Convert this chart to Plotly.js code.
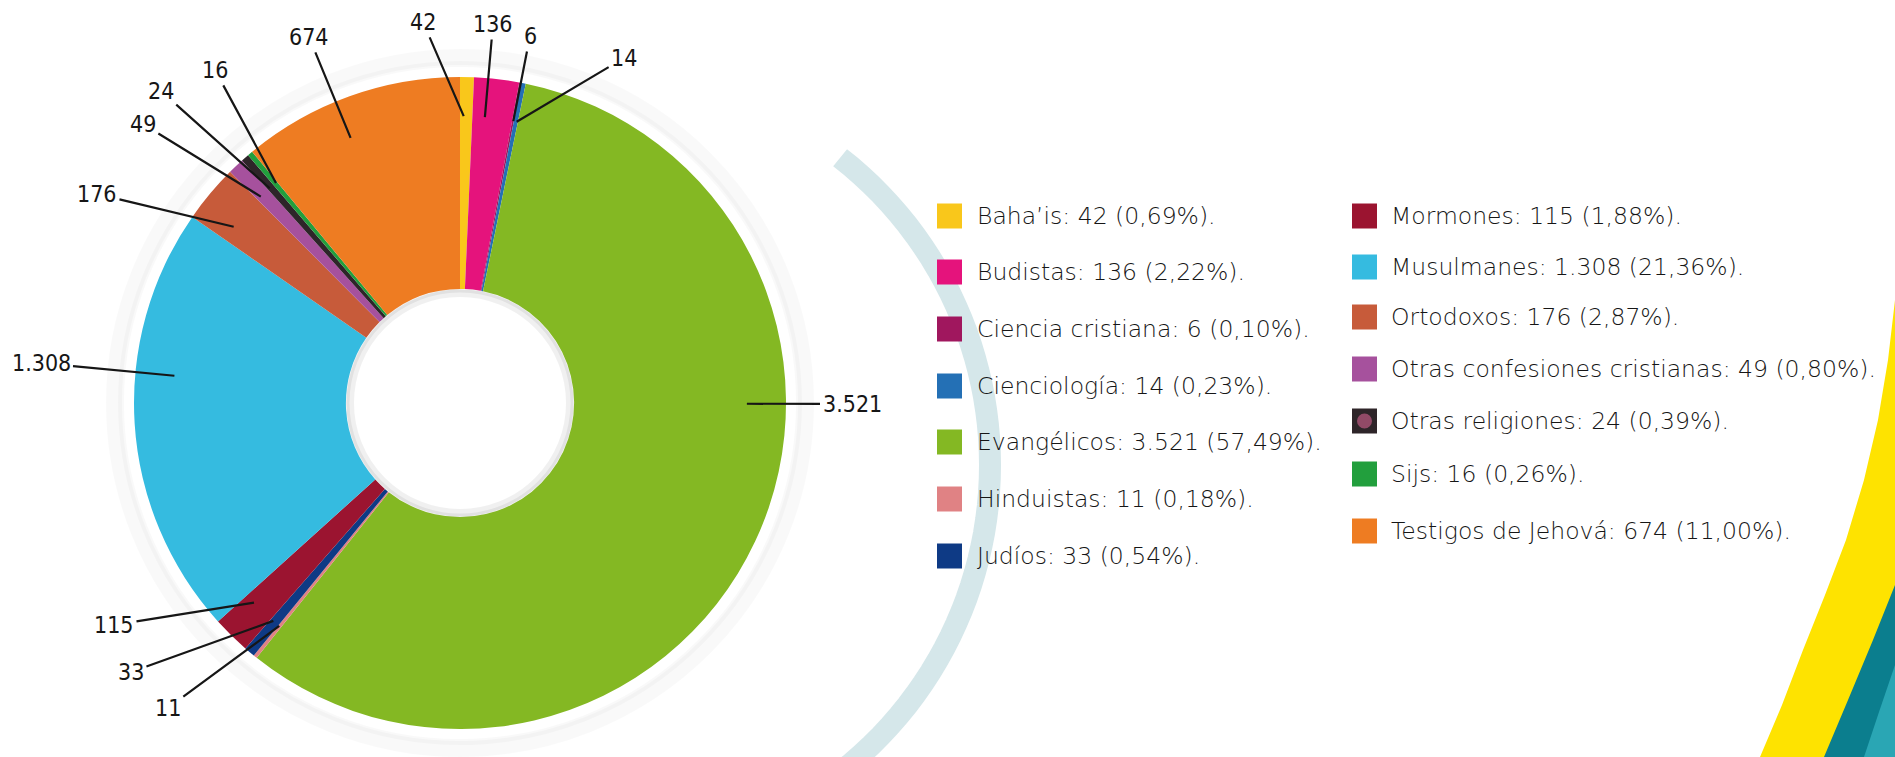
<!DOCTYPE html>
<html>
<head>
<meta charset="utf-8">
<script src="https://cdn.plot.ly/plotly-3.0.1.min.js"></script>
<style>
html,body{margin:0;padding:0;background:#ffffff;}
#chart{width:1895px;height:757px;}
</style>
</head>
<body>
<div id="chart"></div>
<script>
// ---- data ----
const labels = ['Baha’is','Budistas','Ciencia cristiana','Cienciología','Evangélicos','Hinduistas','Judíos',
                'Mormones','Musulmanes','Ortodoxos','Otras confesiones cristianas','Otras religiones','Sijs','Testigos de Jehová'];
const values = [42,136,6,14,3521,11,33,115,1308,176,49,24,16,674];
const colors = ['#f9c71b','#e5137c','#a0175e','#2470b5','#84b823','#e08284','#0e3a85',
                '#9b1430','#35bbe0','#c75b3a','#a6519d','#2e2529','#229f3d','#ee7c22'];

// ---- layout constants (positions / styles, not data) ----
const W = 1895, H = 757;
const LEG_FONT = '"DejaVu Sans", "Open Sans", sans-serif';
const LAB_FONT = '"Liberation Sans Narrow", "DejaVu Sans Condensed", Lato, sans-serif';
const TXT = '#161616';
const pieCx = 460, pieCy = 403, pieR = 326;
// hand-placed label centres (px) for the value callouts, in slice order
const labelPos = [[423,22],[493,24],[530,36],[624,58],[852,404],[168,708],[131,672],[114,625],
                  [41,363],[97,194],[143,124],[161,91],[215,70],[309,37]];
const legendCol = [{mx:937, tx:975, rows:[216,272,329,386,442,499,556]},
                   {mx:1352, tx:1389, rows:[216,267,317,369,421,474,531]}];
const mk = 25;

const total = values.reduce((a,b)=>a+b,0);
const fmtInt = v => String(v).replace(/\B(?=(\d{3})+(?!\d))/g, '.');
const fmtPct = v => (v/total*100).toFixed(2).replace('.', ',');
const px = x => x / W;
const py = y => 1 - y / H;

const shapes = [];
const legendAnn = [];

// decorative light arc behind legend
(function(){
  const cx = 600, cy = 465, R = 390;
  let d = '';
  for (let a = 52; a >= -60; a -= 2) {
    const t = a * Math.PI / 180;
    const x = cx + R * Math.cos(t), y = cy - R * Math.sin(t);
    d += (d ? ' L ' : 'M ') + px(x).toFixed(5) + ',' + py(y).toFixed(5);
  }
  shapes.push({type:'path', xref:'paper', yref:'paper', path:d, layer:'below',
               line:{color:'#d5e7ea', width:22}});
})();

// decorative bottom-right bands
function poly(pts){ return 'M ' + pts.map(p => px(p[0]).toFixed(5)+','+py(p[1]).toFixed(5)).join(' L ') + ' Z'; }
shapes.push({type:'path', xref:'paper', yref:'paper', layer:'below', line:{width:0}, fillcolor:'#fee300',
  path: poly([[1895,300],[1888,360],[1878,420],[1864,480],[1846,540],[1825,595],[1803,650],[1782,705],[1760,757],[1895,757]])});
shapes.push({type:'path', xref:'paper', yref:'paper', layer:'below', line:{width:0}, fillcolor:'#0b7e8e',
  path: poly([[1895,585],[1873,640],[1848,700],[1824,757],[1895,757]])});
shapes.push({type:'path', xref:'paper', yref:'paper', layer:'below', line:{width:0}, fillcolor:'#2aa6b4',
  path: poly([[1895,665],[1879,712],[1864,757],[1895,757]])});

// soft shadow around pie
[[346,16,'rgba(0,0,0,0.022)'],[339,6,'rgba(0,0,0,0.022)']].forEach(s=>{
  shapes.push({type:'circle', xref:'paper', yref:'paper', layer:'below',
    x0:px(pieCx-s[0]), x1:px(pieCx+s[0]), y0:py(pieCy+s[0]), y1:py(pieCy-s[0]),
    line:{color:s[2], width:s[1]}, fillcolor:'rgba(0,0,0,0)'});
});
// inner hole rim shading
[[110,8,'rgba(0,0,0,0.06)'],[112,3,'rgba(0,0,0,0.06)']].forEach(s=>{
  shapes.push({type:'circle', xref:'paper', yref:'paper', layer:'above',
    x0:px(pieCx-s[0]), x1:px(pieCx+s[0]), y0:py(pieCy+s[0]), y1:py(pieCy-s[0]),
    line:{color:s[2], width:s[1]}, fillcolor:'rgba(0,0,0,0)'});
});

// legend (two columns)
labels.forEach((lab, i) => {
  const col = legendCol[i < 7 ? 0 : 1];
  const y = col.rows[i % 7];
  shapes.push({type:'rect', xref:'paper', yref:'paper', layer:'above',
    x0:px(col.mx), x1:px(col.mx+mk), y0:py(y+mk/2), y1:py(y-mk/2),
    line:{width:0}, fillcolor:colors[i]});
  if (lab === 'Otras religiones') {
    shapes.push({type:'circle', xref:'paper', yref:'paper', layer:'above',
      x0:px(col.mx+5), x1:px(col.mx+mk-5), y0:py(y+mk/2-5), y1:py(y-mk/2+5),
      line:{width:0}, fillcolor:'rgba(190,90,130,0.7)'});
  }
  legendAnn.push({xref:'paper', yref:'paper', x:px(col.tx), y:py(y), xanchor:'left', yanchor:'middle',
    showarrow:false, text: lab + ': ' + fmtInt(values[i]) + ' (' + fmtPct(values[i]) + '%).',
    font:{family:LEG_FONT, size:23.5, color:TXT, weight:200}});
});

const trace = {
  type:'pie',
  labels: labels,
  values: values,
  textinfo: 'none',
  marker: {colors: colors, line:{width:0}},
  hole: 0.35,
  sort: false,
  direction: 'clockwise',
  rotation: 0,
  domain: {x:[px(pieCx-pieR), px(pieCx+pieR)], y:[py(pieCy+pieR), py(pieCy-pieR)]},
  showlegend: false,
  hoverinfo: 'label+value+percent'
};

const layout = {
  width: W, height: H,
  margin: {l:0, r:0, t:0, b:0},
  paper_bgcolor: '#ffffff',
  plot_bgcolor: '#ffffff',
  showlegend: false,
  separators: ',.',
  font: {family: LEG_FONT, color: TXT},
  shapes: shapes,
  annotations: legendAnn
};

const gd = document.getElementById('chart');
Plotly.newPlot(gd, [trace], layout, {displayModeBar:false, staticPlot:true}).then(() => {
  // value callouts: leader line tip placed inside each slice, using the pie geometry Plotly computed
  const cd = gd.calcdata && gd.calcdata[0];
  const cd0 = cd ? cd[0] : {};
  const cx = (cd0.cx !== undefined) ? cd0.cx : pieCx;
  const cy = (cd0.cy !== undefined) ? cd0.cy : pieCy;
  const r  = (cd0.r  !== undefined) ? cd0.r  : pieR;
  let acc = 0;
  const callouts = values.map((v, i) => {
    let a0, a1;
    const pt = cd ? cd[i] : null;
    if (pt && pt.startangle !== undefined && pt.stopangle !== undefined) {
      a0 = Math.min(pt.startangle, pt.stopangle); a1 = Math.max(pt.startangle, pt.stopangle);
    } else {
      a0 = acc / total * 2 * Math.PI; a1 = (acc + v) / total * 2 * Math.PI;
    }
    acc += v;
    const span = a1 - a0, mid = (a0 + a1) / 2;
    const [lx, ly] = labelPos[i];
    let la = Math.atan2(lx - cx, -(ly - cy));
    while (la < mid - Math.PI) la += 2 * Math.PI;
    while (la >= mid + Math.PI) la -= 2 * Math.PI;
    const ta = Math.min(Math.max(la, a0 + 0.3 * span), a1 - 0.3 * span);
    const tr = 0.88 * r;
    const tx = cx + tr * Math.sin(ta), ty = cy - tr * Math.cos(ta);
    return {xref:'paper', yref:'paper', x: px(tx), y: py(ty), axref:'pixel', ayref:'pixel',
      ax: lx - tx, ay: ly - ty, showarrow:true, arrowhead:0, arrowwidth:2.2, arrowcolor:'#161616',
      standoff:0, startstandoff:1, text: fmtInt(v),
      font:{family:LAB_FONT, size:23, color:TXT}};
  });
  return Plotly.relayout(gd, {annotations: legendAnn.concat(callouts)});
});
</script>
</body>
</html>
